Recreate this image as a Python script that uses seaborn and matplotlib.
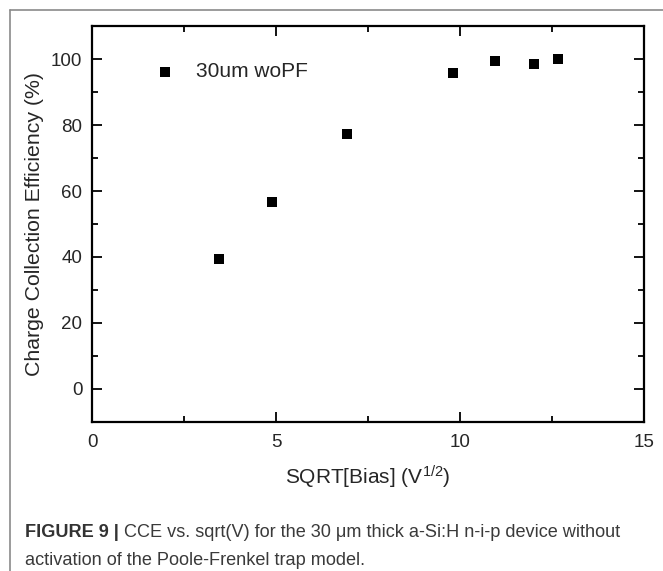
# CCE vs sqrt(bias) scatter, 30 um a-Si:H n-i-p device
import matplotlib.pyplot as plt
import matplotlib.lines as mlines
from matplotlib.ticker import MultipleLocator
import pandas as pd
import seaborn as sns

# data
sqrt_bias = [3.46, 4.90, 6.93, 9.80, 10.95, 12.00, 12.65]
cce = [39.4, 56.8, 77.4, 95.8, 99.5, 98.5, 100.0]
series_label = "30um woPF"

x_ticks = [0, 5, 10, 15]
y_ticks = [0, 20, 40, 60, 80, 100]

df = pd.DataFrame({"x": sqrt_bias, "y": cce})

sns.set_style("ticks")
plt.rcParams["font.family"] = ["Liberation Sans", "DejaVu Sans"]
plt.rcParams["mathtext.default"] = "regular"

fig = plt.figure(figsize=(6.63, 5.71), dpi=100)
ax = fig.add_axes([0.1388, 0.2618, 0.8325, 0.6918])

sns.scatterplot(data=df, x="x", y="y", marker="s", s=42, color="black",
                edgecolor="black", linewidth=0, label=series_label, ax=ax)

ax.set_xlim(0, 15)
ax.set_ylim(-10, 110)
ax.set_xticks(x_ticks)
ax.set_yticks(y_ticks)
ax.xaxis.set_minor_locator(MultipleLocator(2.5))
ax.yaxis.set_minor_locator(MultipleLocator(10))
ax.tick_params(which="both", direction="in", top=True, right=True,
               labeltop=False, labelright=False, width=1.3, color="black")
ax.tick_params(which="major", length=7, labelsize=13.5)
ax.tick_params(which="minor", length=4)
ax.tick_params(axis="y", which="major", pad=7)
ax.tick_params(axis="x", which="major", pad=9)
for sp in ax.spines.values():
    sp.set_linewidth(1.6)
    sp.set_color("black")

ax.set_xlabel("SQRT[Bias] (V$^{1/2}$)", fontsize=15, labelpad=9)
ax.set_ylabel("Charge Collection Efficiency (%)", fontsize=15.3, labelpad=5)

ax.legend(loc="center left", bbox_to_anchor=(0.113, 0.885), frameon=False,
          fontsize=15, handlelength=1.0, handletextpad=0.98,
          borderpad=0, borderaxespad=0, markerscale=1.0)

# caption panel border (top and left edges)
fig.add_artist(mlines.Line2D([10 / 663, 1], [1 - 10 / 571, 1 - 10 / 571],
                             transform=fig.transFigure, color="#8a8a8a", lw=1.2))
fig.add_artist(mlines.Line2D([10 / 663, 10 / 663], [0, 1 - 10 / 571],
                             transform=fig.transFigure, color="#8a8a8a", lw=1.2))

# caption
cap_color = "#3a3a3a"
t1 = fig.text(25 / 663, 1 - 537 / 571, "FIGURE 9 |", fontsize=13.1,
              fontweight="bold", color="#333333", va="baseline")
ax.annotate(" CCE vs. sqrt(V) for the 30 \u03bcm thick a-Si:H n-i-p device without",
            xy=(1, 0), xycoords=t1, va="bottom", ha="left",
            fontsize=13.1, color=cap_color, annotation_clip=False)
fig.text(25 / 663, 1 - 565 / 571, "activation of the Poole-Frenkel trap model.",
         fontsize=13.1, color=cap_color, va="baseline")

fig.savefig("out.png", dpi=100)
